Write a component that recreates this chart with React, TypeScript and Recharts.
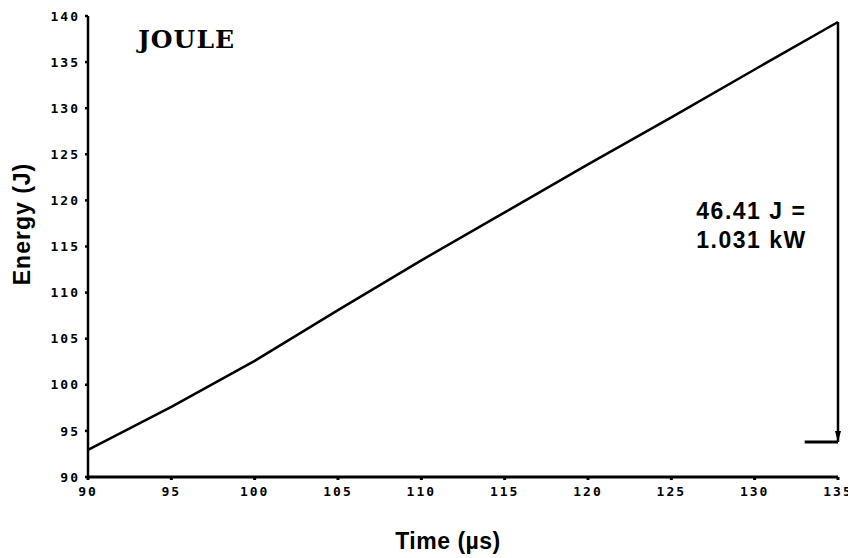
import { Label, Line, LineChart, ReferenceDot, ReferenceLine, XAxis, YAxis } from 'recharts'

const TIME = [90, 95, 100, 105, 110, 115, 120, 125, 130, 135]
const ENERGY = [92.94, 97.6, 102.6, 108.1, 113.5, 118.7, 123.9, 129.0, 134.2, 139.35]
const X_TICKS = [90, 95, 100, 105, 110, 115, 120, 125, 130, 135]
const Y_TICKS = [90, 95, 100, 105, 110, 115, 120, 125, 130, 135, 140]

// arrow marking the energy gained over the window
const ARROW_X = 135
const ARROW_TOP = 139.35
const ARROW_BOTTOM = 93.8
const ARROW_FOOT_FROM = 133

const NOTE_LINES = ['46.41 J =', '1.031 kW']
const NOTE_AT = { x: 126.5, y: 118.85 }
const TITLE = 'JOULE'
const TITLE_AT = { x: 93, y: 136.5 }

const data = TIME.map((time, i) => ({ time, energy: ENERGY[i] }))

const SANS = '"Liberation Sans", Arial, sans-serif'
const tickStyle = {
  fill: '#000',
  fontSize: 13,
  fontFamily: '"DejaVu Sans Mono", monospace',
  fontWeight: 700,
  letterSpacing: 2,
}

const ArrowShape = (props: any) => {
  const { x1, y1, x2, y2 } = props
  return (
    <g>
      <line x1={x1} y1={y1} x2={x2} y2={y2} stroke="#000" strokeWidth={2.5} />
      <polygon points={`${x2 - 3},${y2 - 11} ${x2 + 3},${y2 - 11} ${x2},${y2}`} fill="#000" />
    </g>
  )
}

export default function App() {
  return (
    <div style={{ width: 848, height: 550 }}>
      <LineChart width={848} height={550} data={data} margin={{ top: 8, right: 18, left: 0, bottom: 0 }}>
        <XAxis
          type="number"
          dataKey="time"
          domain={[90, 135]}
          ticks={X_TICKS}
          height={81}
          stroke="#000"
          strokeWidth={3}
          tickSize={3}
          tickMargin={7}
          tick={tickStyle}
        >
          <Label
            content={({ viewBox }: any) => (
              <text
                x={viewBox.x + viewBox.width / 2 - 15}
                y={viewBox.y + 72}
                textAnchor="middle"
                fontFamily={SANS}
                fontWeight={700}
                fontSize={23}
                letterSpacing={0.5}
                fill="#000"
              >
                Time (µs)
              </text>
            )}
          />
        </XAxis>
        <YAxis
          type="number"
          domain={[90, 140]}
          ticks={Y_TICKS}
          width={80}
          stroke="#000"
          strokeWidth={2.5}
          tickSize={3}
          tickMargin={5}
          tick={tickStyle}
        >
          <Label
            content={() => (
              <text
                x={14}
                y={216}
                transform="rotate(-90 14 216)"
                textAnchor="middle"
                dominantBaseline="central"
                fontFamily={SANS}
                fontWeight={700}
                fontSize={23}
                letterSpacing={1}
                fill="#000"
              >
                Energy (J)
              </text>
            )}
          />
        </YAxis>
        <Line
          type="linear"
          dataKey="energy"
          stroke="#000"
          strokeWidth={2.5}
          dot={false}
          isAnimationActive={false}
        />
        <ReferenceLine
          segment={[
            { x: ARROW_X, y: ARROW_TOP },
            { x: ARROW_X, y: ARROW_BOTTOM },
          ]}
          shape={ArrowShape}
        />
        <ReferenceLine
          segment={[
            { x: ARROW_FOOT_FROM, y: ARROW_BOTTOM },
            { x: ARROW_X, y: ARROW_BOTTOM },
          ]}
          stroke="#000"
          strokeWidth={3}
        />
        <ReferenceDot
          x={TITLE_AT.x}
          y={TITLE_AT.y}
          shape={(p: any) => (
            <text
              x={p.cx}
              y={p.cy}
              fontFamily='"DejaVu Serif", serif'
              fontWeight={700}
              fontSize={25}
              letterSpacing={1}
              fill="#000"
            >
              {TITLE}
            </text>
          )}
        />
        <ReferenceDot
          x={NOTE_AT.x}
          y={NOTE_AT.y}
          shape={(p: any) => (
            <g>
              {NOTE_LINES.map((line, i) => (
                <text
                  key={line}
                  x={p.cx}
                  y={p.cy + i * 29}
                  dominantBaseline="central"
                  fontFamily={SANS}
                  fontWeight={700}
                  fontSize={23}
                  letterSpacing={1.5}
                  fill="#000"
                >
                  {line}
                </text>
              ))}
            </g>
          )}
        />
      </LineChart>
    </div>
  )
}
